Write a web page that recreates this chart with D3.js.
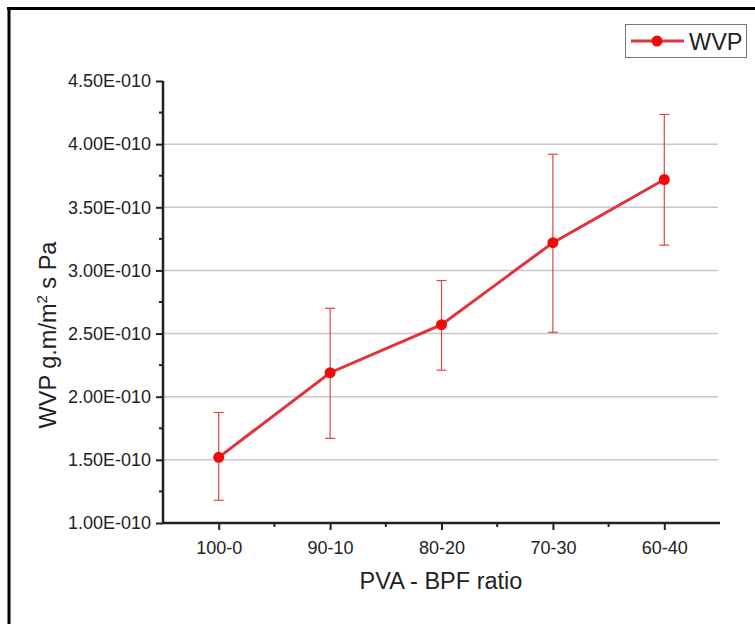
<!DOCTYPE html>
<html><head><meta charset="utf-8">
<script src="https://cdn.jsdelivr.net/npm/d3@7"></script>
<style>body{margin:0;background:#fff}svg{display:block;font-family:"Liberation Sans",Arial,sans-serif}</style>
</head><body><svg id="c" width="755" height="624"></svg>
<script>
const categories = ["100-0","90-10","80-20","70-30","60-40"];
const wvp = [1.52e-10, 2.19e-10, 2.57e-10, 3.22e-10, 3.72e-10];
const errUpper = [1.875e-10, 2.70e-10, 2.92e-10, 3.92e-10, 4.235e-10];
const errLower = [1.18e-10, 1.67e-10, 2.21e-10, 2.51e-10, 3.20e-10];
const yTicks = [1.0e-10,1.5e-10,2.0e-10,2.5e-10,3.0e-10,3.5e-10,4.0e-10,4.5e-10];
const yMinor = [1.25e-10,1.75e-10,2.25e-10,2.75e-10,3.25e-10,3.75e-10,4.25e-10];

const svg = d3.select("#c");
// outer frame (top and left edges visible)
svg.append("line").attr("x1",7).attr("x2",755).attr("y1",8.5).attr("y2",8.5).attr("stroke","#000").attr("stroke-width",3);
svg.append("line").attr("x1",9).attr("x2",9).attr("y1",7).attr("y2",624).attr("stroke","#000").attr("stroke-width",3);

const L=163, R=720, T=81, B=523;
const x = d3.scalePoint().domain(categories).range([L,R]).padding(0.5);
const y = d3.scaleLinear().domain([1.0e-10,4.5e-10]).range([B,T]);
const label = v => (v*1e10).toFixed(2)+"E-010";

// gridlines
svg.append("g").selectAll("line").data(yTicks.filter(v=>v>1.0e-10 && v<4.5e-10)).join("line")
  .attr("x1",L).attr("x2",R-2).attr("y1",d=>y(d)).attr("y2",d=>y(d))
  .attr("stroke","#c8c8c8").attr("stroke-width",1.5);

// y axis
const yAxis = svg.append("g").attr("transform",`translate(${L},0)`)
  .call(d3.axisLeft(y).tickValues(yTicks).tickFormat(label).tickSize(7).tickPadding(5));
yAxis.append("g").selectAll("line").data(yMinor).join("line")
  .attr("x1",-4).attr("x2",0).attr("y1",d=>y(d)).attr("y2",d=>y(d)).attr("stroke","#222").attr("stroke-width",2);
// x axis
const step = x.step();
const xMinor = categories.slice(0,-1).map(c=>x(c)+step/2);
const xAxis = svg.append("g").attr("transform",`translate(0,${B})`)
  .call(d3.axisBottom(x).tickSize(7).tickPadding(11));
xAxis.append("g").selectAll("line").data(xMinor).join("line")
  .attr("x1",d=>d).attr("x2",d=>d).attr("y1",0).attr("y2",4).attr("stroke","#222").attr("stroke-width",2);
[yAxis,xAxis].forEach(g=>{
  g.select(".domain").attr("stroke","#222").attr("stroke-width",2.5);
  g.selectAll(".tick line").attr("stroke","#222").attr("stroke-width",2);
  g.selectAll("text").attr("fill","#222").style("font-size","18px").style("font-family","'Liberation Sans',Arial,sans-serif");
});
xAxis.select(".domain").attr("d",`M${L},0H${R}`);
yAxis.select(".domain").attr("d",`M0,${B}V${T}`);

// error bars
const eb = svg.append("g").attr("stroke","#d8484c").attr("stroke-width",1.2);
categories.forEach((c,i)=>{
  const cx = x(c);
  eb.append("line").attr("x1",cx).attr("x2",cx).attr("y1",y(errUpper[i])).attr("y2",y(errLower[i]));
  eb.append("line").attr("x1",cx-5).attr("x2",cx+5).attr("y1",y(errUpper[i])).attr("y2",y(errUpper[i]));
  eb.append("line").attr("x1",cx-5).attr("x2",cx+5).attr("y1",y(errLower[i])).attr("y2",y(errLower[i]));
});

// line
const line = d3.line().x((d,i)=>x(categories[i])).y(d=>y(d));
svg.append("path").datum(wvp).attr("d",line).attr("fill","none").attr("stroke","#e3333a").attr("stroke-width",3);
svg.append("g").selectAll("circle").data(wvp).join("circle")
  .attr("cx",(d,i)=>x(categories[i])).attr("cy",d=>y(d)).attr("r",5.5).attr("fill","#f00a0a");

// axis titles
svg.append("text").attr("x",441).attr("y",589).attr("text-anchor","middle")
  .style("font-size","23.5px").attr("fill","#222").text("PVA - BPF ratio");
const yt = svg.append("text").attr("transform","translate(56,335) rotate(-90)").attr("text-anchor","middle")
  .style("font-size","23.5px").attr("fill","#222");
yt.append("tspan").text("WVP g.m/m");
yt.append("tspan").attr("dy",-9).style("font-size","15px").text("2");
yt.append("tspan").attr("dy",9).text(" s Pa");

// legend
const lg = svg.append("g");
lg.append("rect").attr("x",625.5).attr("y",24.5).attr("width",121).attr("height",33).attr("fill","#fff").attr("stroke","#777").attr("stroke-width",1);
lg.append("line").attr("x1",631).attr("x2",684).attr("y1",41).attr("y2",41).attr("stroke","#e3333a").attr("stroke-width",3);
lg.append("circle").attr("cx",657).attr("cy",41).attr("r",5.5).attr("fill","#f00a0a");
lg.append("text").attr("x",689).attr("y",50).style("font-size","23.5px").attr("fill","#222").text("WVP");
</script></body></html>
